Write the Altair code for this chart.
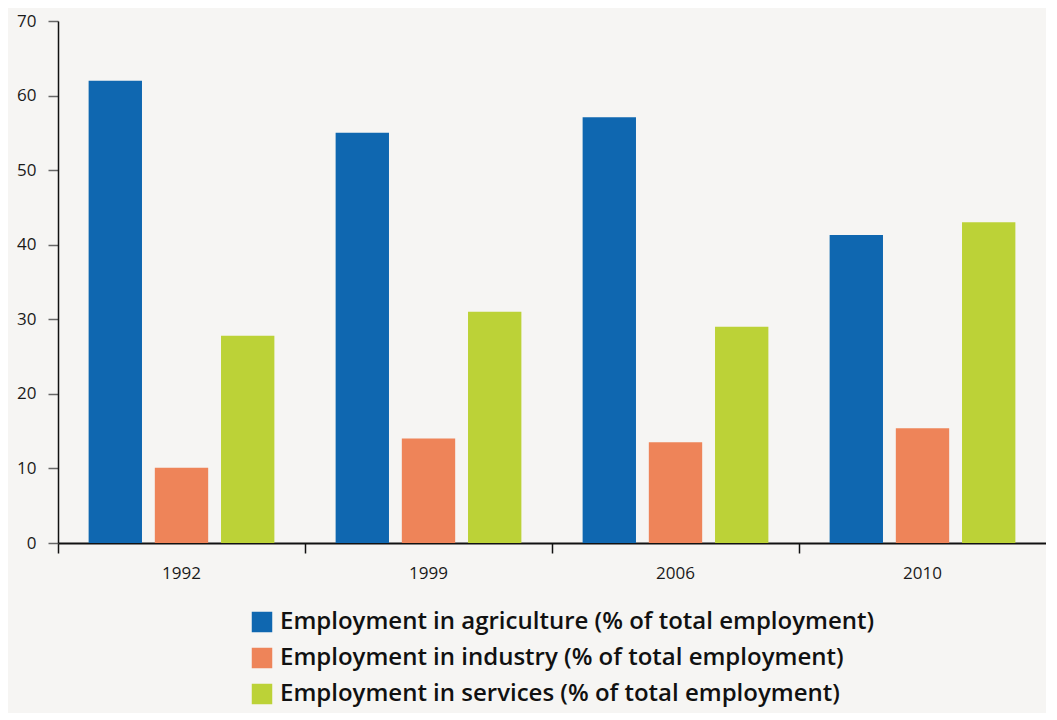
import altair as alt
import pandas as pd

years = ["1992", "1999", "2006", "2010"]
series = [
    "Employment in agriculture (% of total employment)",
    "Employment in industry (% of total employment)",
    "Employment in services (% of total employment)",
]
agriculture = [62.0, 55.0, 57.1, 41.3]
industry = [10.1, 14.0, 13.5, 15.4]
services = [27.8, 31.0, 29.0, 43.0]
colors = ["#0f67b0", "#ee8459", "#bcd237"]

rows = []
for vals, s in zip([agriculture, industry, services], series):
    for y, v in zip(years, vals):
        rows.append({"year": y, "series": s, "value": v})
df = pd.DataFrame(rows)

FONT = "Open Sans"

chart = alt.Chart(df).mark_bar().encode(
    x=alt.X("year:N", sort=years, title=None,
            scale=alt.Scale(paddingInner=0, paddingOuter=0),
            axis=alt.Axis(bandPosition=0, labelAngle=0, labelFontSize=17, labelColor="#1a1a1a",
                          labelFont=FONT, domainColor="#111", domainWidth=2,
                          tickColor="#111", tickSize=10, tickWidth=1.5, labelPadding=12,
                          labelAlign="center")),
    xOffset=alt.XOffset("series:N", sort=series,
                        scale=alt.Scale(paddingInner=0.194, paddingOuter=0.4627)),
    y=alt.Y("value:Q", title=None,
            scale=alt.Scale(domain=[0, 70], nice=False),
            axis=alt.Axis(values=[0, 10, 20, 30, 40, 50, 60, 70], grid=False,
                          labelFontSize=17, labelColor="#1a1a1a", labelFont=FONT,
                          domainColor="#111", domainWidth=1.5, tickColor="#666",
                          tickSize=10, tickWidth=1.5, labelPadding=12)),
    color=alt.Color("series:N", sort=series, title=None,
                    scale=alt.Scale(domain=series, range=colors),
                    legend=alt.Legend(orient="none", legendX=192, legendY=589,
                                      symbolType="square", symbolSize=420,
                                      symbolStrokeWidth=0, labelFontSize=24,
                                      labelFont=FONT, labelFontWeight=600,
                                      labelColor="#111", labelLimit=800,
                                      rowPadding=12, labelOffset=6)),
).properties(
    width=988, height=522,
    padding={"left": 8, "top": 4, "right": 0, "bottom": 7},
    background="#f6f5f3",
).configure_view(stroke=None)

chart.save("out.html", embed_options={"renderer": "svg", "actions": False})
